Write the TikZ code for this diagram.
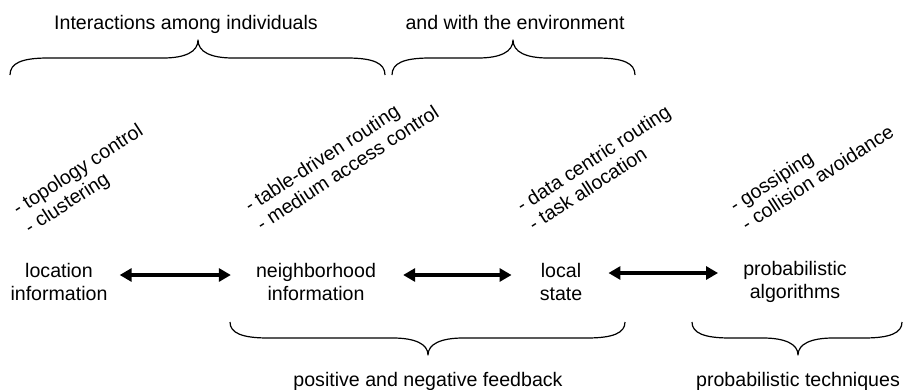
\documentclass[tikz,border=0pt]{standalone}
\usepackage{fontspec}
\setmainfont{Liberation Sans}
\usetikzlibrary{arrows.meta}
\begin{document}
\begin{tikzpicture}[x=1pt,y=-1pt,
  every node/.style={inner sep=0pt, font=\fontsize{19.6}{23}\selectfont},
  twoline/.style={align=center},
  note/.style={rotate=33, anchor=base west},
  link/.style={line width=3.5pt,
    {Triangle[length=12pt,width=13pt]}-{Triangle[length=12pt,width=13pt]}},
  brace line/.style={line width=1.2pt, line join=round}]

\useasboundingbox (0,0) rectangle (904,389);

% group labels
\node[anchor=base] (topl) at (186,29) {Interactions among individuals};
\node[anchor=base] (topr) at (515,29) {and with the environment};
\node[anchor=base] (botl) at (428,386) {positive and negative feedback};
\node[anchor=base] (botr) at (798,386) {probabilistic techniques};

% upper braces
\draw[brace line] (10,75) .. controls (10,63) and (22,58) .. (48,58) -- (163,58)
  .. controls (185,58) and (198,52) .. (198,40)
  .. controls (198,52) and (211,58) .. (233,58) -- (347,58)
  .. controls (373,58) and (385,63) .. (385,75);
\draw[brace line] (392,75) .. controls (392,63) and (404,58) .. (430,58) -- (478,58)
  .. controls (500,58) and (513,52) .. (513,40)
  .. controls (513,52) and (526,58) .. (548,58) -- (597,58)
  .. controls (623,58) and (635,63) .. (635,75);

% lower braces
\draw[brace line] (230,322) .. controls (230,333) and (242,338) .. (268,338) -- (393,338)
  .. controls (415,338) and (428,344) .. (428,355)
  .. controls (428,344) and (441,338) .. (463,338) -- (587,338)
  .. controls (613,338) and (625,333) .. (625,322);
\draw[brace line] (692,322) .. controls (692,333) and (704,338) .. (730,338) -- (763,338)
  .. controls (785,338) and (798,344) .. (798,355)
  .. controls (798,344) and (811,338) .. (833,338) -- (864,338)
  .. controls (890,338) and (902,333) .. (902,322);

% main row
\node[twoline] (loc) at (59,281.5) {location\\information};
\node[twoline] (nbr) at (316,281.5) {neighborhood\\information};
\node[twoline] (lst) at (561,281.5) {local\\state};
\node[twoline] (prb) at (795,281.5) {probabilistic\\algorithms};

\draw[link] ([xshift=12pt,yshift=6.5pt]loc.east) -- ([xshift=-25pt,yshift=6.5pt]nbr.west);
\draw[link] ([xshift=27pt,yshift=6.5pt]nbr.east) -- ([xshift=-28pt,yshift=6.5pt]lst.west);
\draw[link] ([xshift=26pt,yshift=8.5pt]lst.east) -- ([xshift=-25pt,yshift=8.5pt]prb.west);

% slanted examples
\node[note] (n1a) at (18,216) {- topology control};
\node[note] (n1b) at (30,234.5) {- clustering};
\node[note] (n2a) at (250,213) {- table-driven routing};
\node[note] (n2b) at (262,231.5) {- medium access control};
\node[note] (n3a) at (522,213) {- data centric routing};
\node[note] (n3b) at (534,231.5) {- task allocation};
\node[note] (n4a) at (735,213) {- gossiping};
\node[note] (n4b) at (747,231.5) {- collision avoidance};
\end{tikzpicture}
\end{document}
